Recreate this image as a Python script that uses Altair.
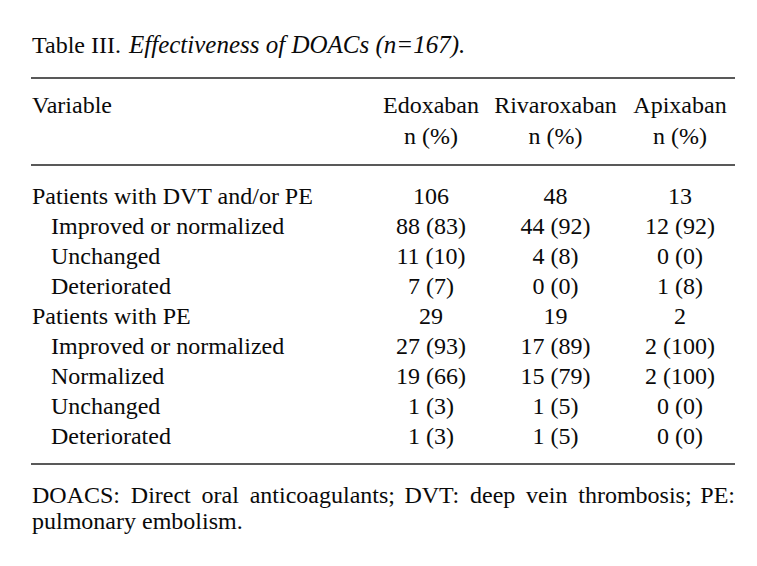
import altair as alt
import pandas as pd

# ---- table content ----
title_plain = "Table III."
title_italic = "Effectiveness of DOACs (n=167)."
variable_header = "Variable"
drugs = ["Edoxaban", "Rivaroxaban", "Apixaban"]
unit_label = "n (%)"
row_labels = [
    "Patients with DVT and/or PE",
    "Improved or normalized",
    "Unchanged",
    "Deteriorated",
    "Patients with PE",
    "Improved or normalized",
    "Normalized",
    "Unchanged",
    "Deteriorated",
]
row_indent = [0, 1, 1, 1, 0, 1, 1, 1, 1]
edoxaban = ["106", "88 (83)", "11 (10)", "7 (7)", "29", "27 (93)", "19 (66)", "1 (3)", "1 (3)"]
rivaroxaban = ["48", "44 (92)", "4 (8)", "0 (0)", "19", "17 (89)", "15 (79)", "1 (5)", "1 (5)"]
apixaban = ["13", "12 (92)", "0 (0)", "1 (8)", "2", "2 (100)", "2 (100)", "0 (0)", "0 (0)"]
# footnote, first line split in pieces so it can be justified
footnote_line1 = ["DOACS: Direct oral anticoagulants;", "DVT: deep vein thrombosis;", "PE:"]
footnote_line2 = "pulmonary embolism."

FONT = "Liberation Serif"
FS = 24
INK = "#0a0a0a"
JUSTIFY_SPACE = " \u2009"  # widened word space for the justified first footnote line

# ---- tables built from the lists ----
cells = pd.DataFrame(
    [
        {"row": i, "col": j, "text": vals[i]}
        for j, vals in enumerate([edoxaban, rivaroxaban, apixaban])
        for i in range(len(row_labels))
    ]
)
labels = pd.DataFrame({"row": list(range(len(row_labels))), "label": row_labels, "indent": row_indent})
heads = pd.DataFrame(
    [{"col": j, "line": 0, "text": d} for j, d in enumerate(drugs)]
    + [{"col": j, "line": 1, "text": unit_label} for j in range(len(drugs))]
)
one = pd.DataFrame({"k": [0]})

col_x = alt.Scale(domain=[0, 2], range=[423, 672], zero=False, nice=False)
row_y = alt.Scale(domain=[0, 8], range=[196, 436], zero=False, nice=False)
head_y = alt.Scale(domain=[0, 1], range=[105, 136], zero=False, nice=False)
indent_x = alt.Scale(domain=[0, 1], range=[24, 43], zero=False, nice=False)

txt = dict(font=FONT, fontSize=FS, color=INK, baseline="alphabetic")

title_a = alt.Chart(one).mark_text(align="left", text=title_plain, **txt).encode(
    x=alt.value(24), y=alt.value(45)
)
title_b = alt.Chart(one).mark_text(
    align="left", text=title_italic, fontStyle="italic", font=FONT, fontSize=25, color=INK, baseline="alphabetic"
).encode(x=alt.value(121), y=alt.value(45))

rules = [
    alt.Chart(one).mark_rule(color="#222222", strokeWidth=1.6).encode(
        x=alt.value(23), x2=alt.value(727), y=alt.value(yy)
    )
    for yy in (70, 157, 456)
]

var_head = alt.Chart(one).mark_text(align="left", text=variable_header, **txt).encode(
    x=alt.value(24), y=alt.value(105)
)
drug_heads = alt.Chart(heads).mark_text(align="center", **txt).encode(
    x=alt.X("col:Q", scale=col_x, axis=None),
    y=alt.Y("line:Q", scale=head_y, axis=None),
    text="text:N",
)

label_layer = alt.Chart(labels).mark_text(align="left", **txt).encode(
    x=alt.X("indent:Q", scale=indent_x, axis=None),
    y=alt.Y("row:Q", scale=row_y, axis=None),
    text="label:N",
)
cell_layer = alt.Chart(cells).mark_text(align="center", **txt).encode(
    x=alt.X("col:Q", scale=col_x, axis=None),
    y=alt.Y("row:Q", scale=row_y, axis=None),
    text="text:N",
)

FOOT_Y1, FOOT_Y2 = 495, 521
foot_parts = [
    alt.Chart(one).mark_text(align=al, text=t.replace(" ", JUSTIFY_SPACE), **txt).encode(
        x=alt.value(xx), y=alt.value(FOOT_Y1)
    )
    for t, al, xx in zip(footnote_line1, ["left", "center", "right"], [24, 540, 727])
]
foot_2 = alt.Chart(one).mark_text(align="left", text=footnote_line2, **txt).encode(
    x=alt.value(24), y=alt.value(FOOT_Y2)
)

chart = (
    alt.layer(title_a, title_b, *rules, var_head, drug_heads, label_layer, cell_layer, *foot_parts, foot_2)
    .resolve_scale(x="independent", y="independent")
    .properties(width=741, height=550, padding=0, autosize=alt.AutoSizeParams(type="none"), background="white")
    .configure_view(stroke=None)
)

chart.save("out.html", embed_options={"renderer": "svg", "actions": False})
